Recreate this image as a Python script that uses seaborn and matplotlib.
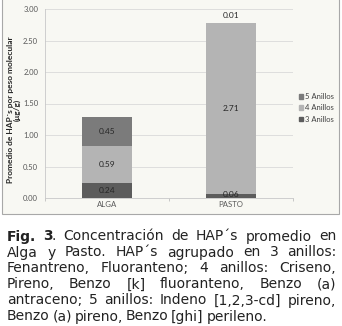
import matplotlib
matplotlib.use("Agg")
import matplotlib.pyplot as plt
import matplotlib.patches as mpatches
import matplotlib.transforms as mtransforms
import seaborn as sns
import numpy as np

# ---- data ----
categories = ["ALGA", "PASTO"]
anillos3 = [0.24, 0.06]
anillos4 = [0.59, 2.71]
anillos5 = [0.45, 0.01]
series_names = ["3 Anillos", "4 Anillos", "5 Anillos"]
yticks = [0.0, 0.5, 1.0, 1.5, 2.0, 2.5, 3.0]

col3, col4, col5 = "#5c5c5c", "#b4b4b4", "#7b7b7b"
W, H = 342, 326

fig = plt.figure(figsize=(W / 100, H / 100), dpi=100)
fig.patch.set_facecolor("white")

# chart area background + border (top edge outside figure)
bg = mpatches.Rectangle((1.5 / W, (H - 213.5) / H), 337.5 / W, 215 / H,
                        transform=fig.transFigure, facecolor="#f8f8f3",
                        edgecolor="#a8a8a8", linewidth=0.8, zorder=-10)
fig.patches.append(bg)

ax = fig.add_axes([45 / W, (H - 198) / H, 248 / W, 189 / H])
ax.set_facecolor("none")
ax.set_zorder(1)

a3 = np.array(anillos3)
a4 = np.array(anillos4)
a5 = np.array(anillos5)
c3 = a3
c4 = a3 + a4
c5 = c4 + a5

for vals, col in [(c5, col5), (c4, col4), (c3, col3)]:
    sns.barplot(x=categories, y=vals, color=col, saturation=1, width=0.4,
                linewidth=0, ax=ax, zorder=3)

cf = "Lato"
# segment labels
for i in range(len(categories)):
    bottoms = [0, c3[i], c4[i]]
    vals = [a3[i], a4[i], a5[i]]
    for b, v in zip(bottoms, vals):
        if v < 0.03:
            ax.annotate(f"{v:.2f}", (i, b + v), xytext=(0, 2.5),
                        textcoords="offset points", ha="center", va="bottom",
                        fontsize=6, family=cf, color="#262626", zorder=5)
        else:
            ax.text(i, b + v / 2 + (0.02 if v < 0.1 else 0), f"{v:.2f}",
                    ha="center", va="center",
                    fontsize=6, family=cf, color="#262626", zorder=5)

ax.set_ylim(0, 3.0)
ax.set_xlim(-0.5, 1.5)
ax.set_yticks(yticks)
ax.set_yticklabels([f"{t:.2f}" for t in yticks], fontsize=5.5, family=cf,
                   color="#595959")
ax.tick_params(axis="y", length=0, pad=5)
ax.tick_params(axis="x", length=0, pad=2.5, labelsize=5.6, labelcolor="#595959")
for lab in ax.get_xticklabels():
    lab.set_family(cf)
ax.set_xticks([-0.5, 0.5, 1.5], minor=True)
ax.tick_params(axis="x", which="minor", length=2, color="#bfbfbf", width=0.6)
ax.yaxis.grid(True, color="#d9d9d9", linewidth=0.6, zorder=0)
ax.set_axisbelow(True)
for s in ["top", "right"]:
    ax.spines[s].set_visible(False)
ax.spines["left"].set_color("#c8c8c8")
ax.spines["bottom"].set_color("#c8c8c8")
ax.spines["left"].set_linewidth(0.6)
ax.spines["bottom"].set_linewidth(0.6)
ax.set_xlabel("")
ax.set_ylabel("")

fig.text(14 / W, (H - 110) / H, "Promedio de HAP´s por peso molecular\n(μg/g)",
         rotation=90, ha="center", va="center", multialignment="center",
         fontsize=6, fontweight="bold", family=cf, color="#262626",
         linespacing=1.0)

handles = [mpatches.Patch(color=col5, label=series_names[2]),
           mpatches.Patch(color=col4, label=series_names[1]),
           mpatches.Patch(color=col3, label=series_names[0])]
leg = fig.legend(handles=handles, loc="center left",
                 bbox_to_anchor=(299 / W, (H - 108) / H), frameon=False,
                 prop={"family": cf, "size": 5.5}, handlelength=0.55,
                 handleheight=0.55, handletextpad=0.3, labelspacing=0.55,
                 borderaxespad=0, borderpad=0)
for t in leg.get_texts():
    t.set_color("#404040")

# ---- caption (justified) ----
renderer = fig.canvas.get_renderer()
ident = mtransforms.IdentityTransform()
cap_fs = 10
cap_col = "#222222"
left_px, right_px = 7, 336
last_right = 267

lines = [
    [[("Fig.", "bold")], [("3", "bold"), (".", "normal")], [("Concentración", "normal")],
     [("de", "normal")], [("HAP´s", "normal")], [("promedio", "normal")], [("en", "normal")]],
    "Alga y Pasto. HAP´s agrupado en 3 anillos:",
    "Fenantreno, Fluoranteno; 4 anillos: Criseno,",
    "Pireno, Benzo [k] fluoranteno, Benzo (a)",
    "antraceno; 5 anillos: Indeno [1,2,3-cd] pireno,",
    "Benzo (a) pireno, Benzo [ghi] perileno.",
]
baselines = [240.5, 256.5, 272.5, 288.5, 304.5, 320.5]

for li, (line, base) in enumerate(zip(lines, baselines)):
    if isinstance(line, str):
        words = [[(w, "normal")] for w in line.split(" ")]
    else:
        words = line
    y = H - base
    word_artists = []
    widths = []
    for w in words:
        segs = []
        tot = 0
        for txt, wt in w:
            t = fig.text(0, y, txt, fontsize=cap_fs, fontweight=wt,
                         family="DejaVu Sans", color=cap_col,
                         transform=ident, va="baseline", ha="left")
            wd = t.get_window_extent(renderer).width
            segs.append((t, tot))
            tot += wd - (1.5 if txt == "3" else 0)
        word_artists.append(segs)
        widths.append(tot)
    rp = last_right if li == len(lines) - 1 else right_px
    gap = (rp - left_px - sum(widths)) / (len(words) - 1)
    x = left_px
    for segs, wd in zip(word_artists, widths):
        for t, off in segs:
            t.set_x(x + off)
        x += wd + gap

fig.savefig("out.png", dpi=100)
